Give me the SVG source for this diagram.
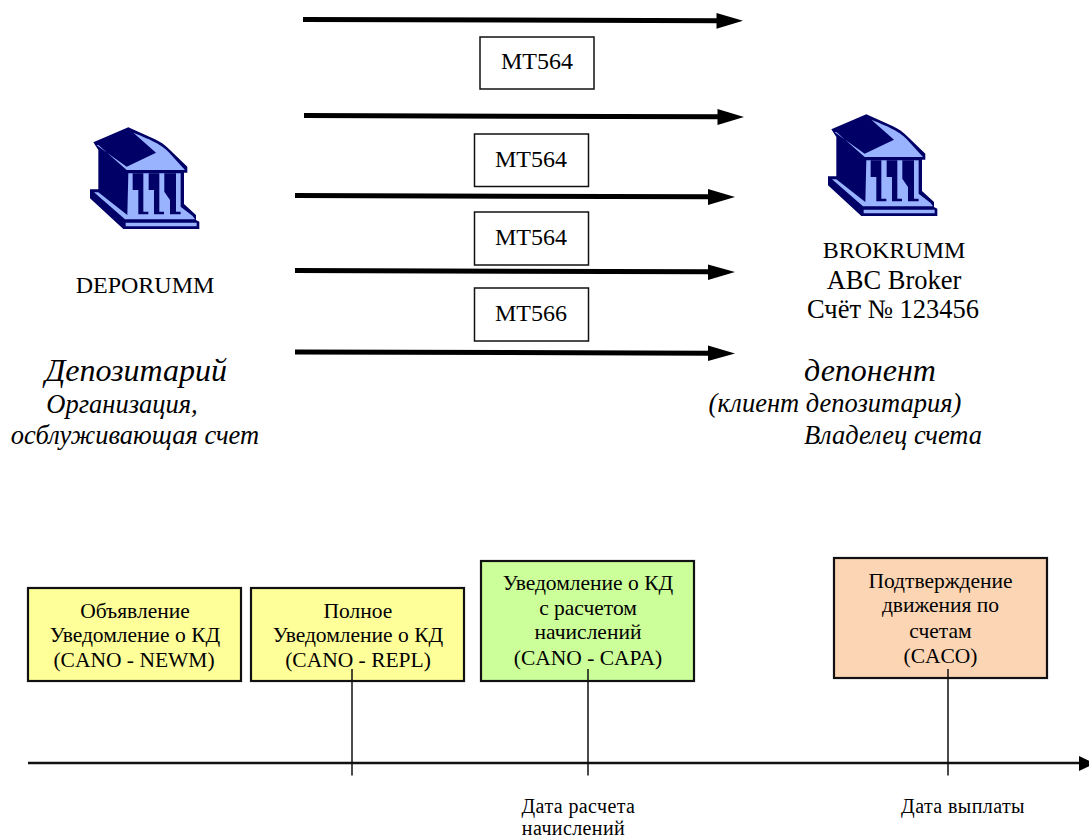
<svg xmlns="http://www.w3.org/2000/svg" width="1089" height="839" viewBox="0 0 1089 839">
<style>
text{font-family:"Liberation Serif","Times New Roman",serif;fill:#000;text-anchor:middle}
.m{font-size:24px}.n{font-size:26.500px}.b{font-size:21.500px}.d{font-size:20px;letter-spacing:.4px}.i1{font-size:32px;font-style:italic}.i2{font-size:26.500px;font-style:italic}
.mb{fill:#fff;stroke:#111;stroke-width:1.500}
.k{stroke:#111;stroke-width:2.200}
.t{stroke:#000;fill:none}
.h{fill:#000}
.lb{stroke:#111;stroke-width:2.500}
</style>
<defs>
<g id="bank" transform="translate(70 110) scale(.3333)">
<path fill="#000066" d="M175 52L70 97L85 120V238H60V265L160 357H388V335L378 330V315L342 282V188H352V170L300 120C285 105 270 95 255 88Z"/>
<path fill="#99b3ff" d="M190 68L258 128L170 170L80 106L85 105L170 180H345L295 125C275 105 250 92 190 68Z"/>
<path fill="#99b3ff" d="M175 190H332V290L368 318L375 328H165L72 247H85L172 315Z"/>
<path fill="#000066" d="M188 190H220V305H235V313H205V240H188ZM236 190H268V305H282V313H252V240H236ZM283 190H318V305H332V313H300V270L283 245Z"/>
<path fill="#99b3ff" d="M167 338H380V349H167Z"/>
</g>
</defs>
<g id="node-deporumm">
<use href="#bank"/>
<text class="m" x="145" y="293">DEPORUMM</text>
<text class="i1" x="136" y="381">Депозитарий</text>
<text class="i2" x="122" y="413">Организация,</text>
<text class="i2" x="135" y="444">осблуживающая счет</text>
</g>
<g id="node-brokrumm">
<use href="#bank" x="738" y="-13"/>
<text class="m" x="894" y="258">BROKRUMM</text>
<text class="n" x="894" y="289">ABC Broker</text>
<text class="n" x="893" y="318">Счёт № 123456</text>
<text class="i1" x="870" y="381">депонент</text>
<text class="i2" x="835" y="412">(клиент депозитария)</text>
<text class="i2" x="893" y="444">Владелец счета</text>
</g>
<g id="msg1"><rect class="mb" x="480" y="37" width="114" height="52"/><text class="m" x="537" y="69">MT564</text></g>
<g id="msg2"><rect class="mb" x="474.500" y="134" width="114" height="52.500"/><text class="m" x="531" y="167">MT564</text></g>
<g id="msg3"><rect class="mb" x="474.500" y="212" width="114" height="53"/><text class="m" x="531" y="245">MT564</text></g>
<g id="msg4"><rect class="mb" x="474.500" y="288" width="114" height="53"/><text class="m" x="531" y="321">MT566</text></g>
<g id="box1"><rect class="k" fill="#ffff99" x="28" y="588" width="213" height="93"/>
<text class="b" x="135" y="618">Объявление</text><text class="b" x="135" y="642">Уведомление о КД</text><text class="b" x="134" y="667">(CANO - NEWM)</text></g>
<g id="box2"><rect class="k" fill="#ffff99" x="251" y="588" width="213" height="93"/>
<text class="b" x="358" y="618">Полное</text><text class="b" x="358" y="642">Уведомление о КД</text><text class="b" x="358" y="667">(CANO - REPL)</text></g>
<g id="box3"><rect class="k" fill="#ccff99" x="481" y="561" width="213" height="120"/>
<text class="b" x="588" y="590">Уведомление о КД</text><text class="b" x="588" y="615">с расчетом</text><text class="b" x="588" y="639">начислений</text><text class="b" x="588" y="665">(CANO - CAPA)</text></g>
<g id="box4"><rect class="k" fill="#fcd5b4" x="834" y="558" width="213" height="120"/>
<text class="b" x="940.500" y="588">Подтверждение</text><text class="b" x="940.500" y="612">движения по</text><text class="b" x="940.500" y="638">счетам</text><text class="b" x="940.500" y="663">(CACO)</text></g>
<g id="date1"><text class="d" x="578.500" y="812.500">Дата расчета</text><text class="d" x="573.500" y="834.700">начислений</text></g>
<g id="date2"><text class="d" x="963" y="812.500">Дата выплаты</text></g>
<g id="connectors">
<g class="t"><path stroke-width="5" d="M303 19.500L720 20.700M304 115.500L720 116.800M295 195.500L710 196.800M295 270.500L710 271.800M295 352L710 353.200"/></g>
<path class="h" d="M716.500 13L743 20.700L716.500 28.700ZM717.500 109L744 117L717.500 125ZM708 189L735 197L708 205ZM708 264.500L735 272L708 280ZM708 345.500L735 353.500L708 361Z"/>
<path class="lb" fill="none" d="M28 763H1082"/>
<path class="h" d="M1079 756L1095 763.500L1079 771Z"/>
<path stroke="#111" stroke-width="1.500" fill="none" d="M352 669V775.500M588 669V775.500M948 669V775.500"/>
</g>
</svg>
